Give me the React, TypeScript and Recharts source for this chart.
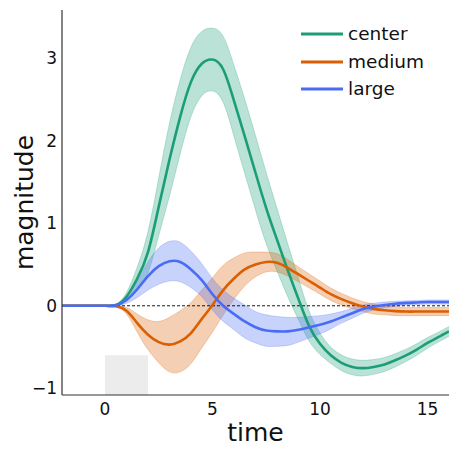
import {
  ComposedChart,
  Area,
  Line,
  XAxis,
  YAxis,
  ReferenceLine,
  ReferenceArea,
  Legend,
} from "recharts";

// time grid (0.5 step)
const TIMES = [
  -2, -1.5, -1, -0.5, 0, 0.5, 1, 1.5, 2, 2.5, 3, 3.5, 4, 4.5, 5, 5.5, 6, 6.5,
  7, 7.5, 8, 8.5, 9, 9.5, 10, 10.5, 11, 11.5, 12, 12.5, 13, 13.5, 14, 14.5, 15,
  15.5, 16,
];

const CENTER_MEAN = [
  0, 0, 0, 0, 0, 0.01, 0.11, 0.33, 0.65, 1.2, 1.77, 2.29, 2.71, 2.93, 2.98,
  2.86, 2.48, 2.05, 1.61, 1.18, 0.8, 0.43, 0.08, -0.25, -0.46, -0.6, -0.69,
  -0.74, -0.755, -0.74, -0.71, -0.66, -0.6, -0.53, -0.45, -0.38, -0.31,
];
const CENTER_ERR = [
  0, 0, 0, 0, 0, 0.005, 0.05, 0.14, 0.25, 0.35, 0.44, 0.45, 0.42, 0.39, 0.38,
  0.4, 0.43, 0.45, 0.45, 0.43, 0.38, 0.32, 0.25, 0.18, 0.13, 0.1, 0.095, 0.095,
  0.095, 0.09, 0.085, 0.08, 0.075, 0.07, 0.065, 0.06, 0.06,
];

const MEDIUM_MEAN = [
  0, 0, 0, 0, 0, -0.005, -0.06, -0.21, -0.35, -0.44, -0.47, -0.43, -0.33,
  -0.16, 0.01, 0.19, 0.33, 0.44, 0.5, 0.53, 0.52, 0.46, 0.38, 0.3, 0.22, 0.14,
  0.08, 0.03, -0.01, -0.04, -0.055, -0.065, -0.07, -0.07, -0.07, -0.07, -0.07,
];
const MEDIUM_ERR = [
  0, 0, 0, 0, 0, 0.005, 0.04, 0.11, 0.18, 0.25, 0.33, 0.37, 0.37, 0.35, 0.33,
  0.3, 0.25, 0.2, 0.15, 0.12, 0.11, 0.1, 0.09, 0.085, 0.08, 0.075, 0.07, 0.065,
  0.06, 0.06, 0.055, 0.055, 0.05, 0.05, 0.05, 0.05, 0.05,
];

const LARGE_MEAN = [
  0, 0, 0, 0, 0, 0.005, 0.07, 0.2, 0.36, 0.48, 0.54, 0.53, 0.44, 0.31, 0.14,
  0.0, -0.1, -0.19, -0.26, -0.3, -0.31, -0.31, -0.29, -0.26, -0.23, -0.19,
  -0.14, -0.09, -0.04, -0.01, 0.01, 0.024, 0.035, 0.04, 0.045, 0.045, 0.045,
];
const LARGE_ERR = [
  0, 0, 0, 0, 0, 0.005, 0.04, 0.1, 0.17, 0.22, 0.24, 0.24, 0.22, 0.2, 0.19,
  0.19, 0.19, 0.2, 0.19, 0.19, 0.18, 0.17, 0.15, 0.13, 0.11, 0.09, 0.07, 0.06,
  0.05, 0.04, 0.035, 0.03, 0.025, 0.025, 0.025, 0.025, 0.025,
];

const X_TICKS = [0, 5, 10, 15];
const Y_TICKS = [-1, 0, 1, 2, 3];

const SERIES = [
  { key: "center", name: "center", color: "#1b9e77" },
  { key: "medium", name: "medium", color: "#d95f02" },
  { key: "large", name: "large", color: "#4a6cf4" },
];

const FONT = "'DejaVu Sans', sans-serif";

const data = TIMES.map((t, i) => ({
  t,
  center: CENTER_MEAN[i],
  centerBand: [CENTER_MEAN[i] - CENTER_ERR[i], CENTER_MEAN[i] + CENTER_ERR[i]],
  medium: MEDIUM_MEAN[i],
  mediumBand: [MEDIUM_MEAN[i] - MEDIUM_ERR[i], MEDIUM_MEAN[i] + MEDIUM_ERR[i]],
  large: LARGE_MEAN[i],
  largeBand: [LARGE_MEAN[i] - LARGE_ERR[i], LARGE_MEAN[i] + LARGE_ERR[i]],
}));

const fmt = (v: number) => (v < 0 ? `\u2212${Math.abs(v)}` : `${v}`);

function LegendBox() {
  return (
    <div style={{ fontFamily: FONT, fontSize: 18.5, color: "#111" }}>
      {SERIES.map((s) => (
        <div
          key={s.key}
          style={{ display: "flex", alignItems: "center", height: 27.7 }}
        >
          <svg width={42} height={6} style={{ marginRight: 5 }}>
            <line x1={0} y1={3} x2={42} y2={3} stroke={s.color} strokeWidth={3} />
          </svg>
          <span style={{ lineHeight: "20px" }}>{s.name}</span>
        </div>
      ))}
    </div>
  );
}

export default function App() {
  return (
    <div style={{ position: "absolute", left: 0, top: 0, background: "#fff" }}>
      <ComposedChart
        width={459}
        height={456}
        data={data}
        margin={{ top: 10, right: 10, left: 0, bottom: 0 }}
      >
        <XAxis
          dataKey="t"
          type="number"
          domain={[-2, 16]}
          ticks={X_TICKS}
          allowDataOverflow
          height={61}
          tickLine={false}
          tickSize={6}
          tickMargin={2}
          axisLine={{ stroke: "#333", strokeWidth: 1.2 }}
          tick={{ fontSize: 17, fill: "#111", fontFamily: FONT }}
          label={{
            value: "time",
            position: "insideBottom",
            offset: 15,
            style: { fontSize: 25, fill: "#111", fontFamily: FONT },
          }}
        />
        <YAxis
          type="number"
          domain={[-1.08, 3.58]}
          ticks={Y_TICKS}
          allowDataOverflow
          width={62}
          tickLine={false}
          tickSize={3}
          tickMargin={2}
          tickFormatter={fmt}
          axisLine={{ stroke: "#333", strokeWidth: 1.2 }}
          tick={{ fontSize: 17, fill: "#111", fontFamily: FONT }}
          label={{
            value: "magnitude",
            angle: -90,
            position: "insideLeft",
            offset: 24,
            style: {
              fontSize: 25,
              fill: "#111",
              fontFamily: FONT,
              textAnchor: "middle",
            },
          }}
        />
        <ReferenceArea
          x1={0}
          x2={2}
          y1={-1.08}
          y2={-0.6}
          fill="#e6e6e6"
          fillOpacity={0.75}
          stroke="none"
        />
        {SERIES.map((s) => (
          <Area
            key={s.key + "Band"}
            dataKey={s.key + "Band"}
            type="natural"
            fill={s.color}
            fillOpacity={0.3}
            stroke={s.color}
            strokeOpacity={0.25}
            strokeWidth={1}
            legendType="none"
            activeDot={false}
            dot={false}
            isAnimationActive={false}
          />
        ))}
        <ReferenceLine
          y={0}
          stroke="#000"
          strokeWidth={0.9}
          strokeDasharray="3 2"
        />
        {SERIES.map((s) => (
          <Line
            key={s.key}
            dataKey={s.key}
            name={s.name}
            type="natural"
            stroke={s.color}
            strokeWidth={2.6}
            dot={false}
            activeDot={false}
            isAnimationActive={false}
          />
        ))}
        <Legend
          layout="vertical"
          align="center"
          verticalAlign="middle"
          wrapperStyle={{ top: 20, left: 301, width: 158 }}
          content={() => <LegendBox />}
        />
      </ComposedChart>
    </div>
  );
}
